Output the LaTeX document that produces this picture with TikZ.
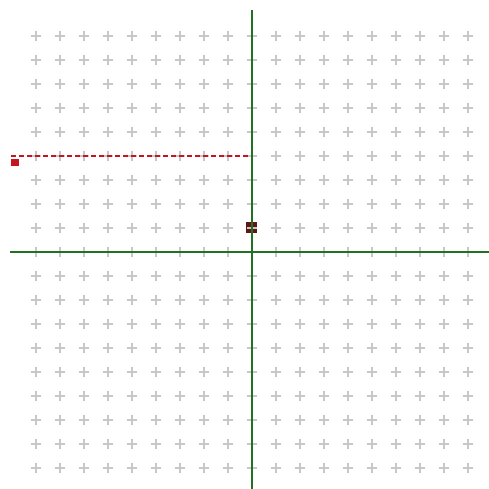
\documentclass[tikz,border=0pt]{standalone}
\usepackage{tikz}
\usepackage{color}
\definecolor{gridgray}{RGB}{200,200,200}
\definecolor{axisgreen}{RGB}{34,112,34}
\definecolor{markred}{RGB}{196,22,32}
\definecolor{markdark}{RGB}{96,22,22}

\begin{document}
\begin{tikzpicture}[x=1pt,y=-1pt]
\useasboundingbox (0,0) rectangle (489,489);
\fill[white] (0,0) rectangle (489,489);
% the point, under the crosses
\fill[markdark] (246,222) rectangle (257,233);
% grid of crosses
\foreach \i in {-9,...,9} {
  \foreach \j in {-9,...,9} {
    \draw[gridgray, line width=1.3pt] (252+24*\i-5, 252+24*\j) -- (252+24*\i+5, 252+24*\j);
    \draw[gridgray, line width=1.3pt] (252+24*\i, 252+24*\j-5) -- (252+24*\i, 252+24*\j+5);
  }
}
% axes
\draw[axisgreen, line width=1.5pt] (10,252) -- (489,252);
\draw[axisgreen, line width=1.5pt] (252,10) -- (252,489);
% dashed guide and its marker
\coordinate (gstart) at (11,156);
\coordinate (gend) at (250,156);
\draw[markred, line width=1pt, dash pattern=on 5pt off 3pt] (gstart) -- (gend);
\fill[markred] (11,159) rectangle (19,166);
\end{tikzpicture}
\end{document}
